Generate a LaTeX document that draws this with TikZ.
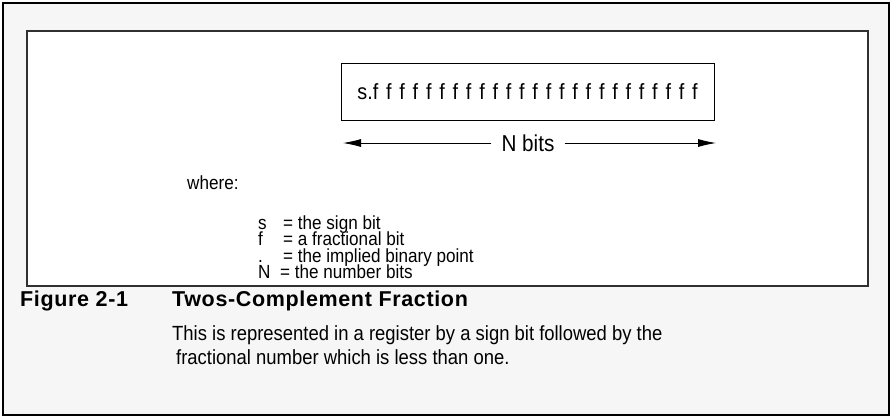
\documentclass[tikz,border=0pt]{standalone}
\usepackage{fontspec}
\setmainfont[FakeStretch=0.9]{Liberation Sans}
\newfontfamily\captbold[LetterSpace=3]{Liberation Sans Bold}
\usetikzlibrary{arrows.meta}
\definecolor{bggray}{HTML}{F6F6F6}
\definecolor{boxgray}{HTML}{303030}

\begin{document}
\begin{tikzpicture}[x=1pt, y=-1pt,
                every node/.style={inner sep=0pt, font=\fontsize{19}{21}\selectfont},
                txt/.style={anchor=base west},
                capt/.style={anchor=base west, font=\fontsize{20.5}{22}\selectfont},
                bitarrow/.style={draw, line width=0.8pt, -{Latex[length=18pt, width=8pt]}}]

                \useasboundingbox (0,0) rectangle (892,418);
                \draw[line width=2.5pt, fill=bggray] (3,3) rectangle (889,415);
                \draw[draw=boxgray, line width=1.2pt, fill=white] (27,31) rectangle (868,286);

                \node[draw, line width=0.8pt, minimum width=373pt, minimum height=57pt,
                      font=\fontsize{22}{24}\selectfont] (reg) at (527.5,91.5)
                    {s.f\foreach \k in {1,...,24}{\hspace{7.8pt}f}};

                \coordinate (larr) at (343,143);
                \coordinate (rarr) at (716,143);
                \node[anchor=base, inner xsep=10pt, font=\fontsize{23}{24}\selectfont] (nbits) at (528,151) {N bits};
                \path [bitarrow] (nbits.west |- larr) -- (larr);
                \path [bitarrow] (nbits.east |- rarr) -- (rarr);

                \node[txt] (where) at (187,189) {where:};
                \node[txt] (defs) at (258,229) {\makebox[25pt][l]{s}= the sign bit};
                \node[txt] (deff) at (258,245.5) {\makebox[25pt][l]{f}= a fractional bit};
                \node[txt] (defp) at (258,262) {\makebox[25pt][l]{.}= the implied binary point};
                \node[txt] (defn) at (258,278.5) {\makebox[22pt][l]{N}= the number bits};

                \node[capt] (fig) at (20,306) {\captbold\fontsize{21.5}{22}\selectfont Figure 2-1};
                \node[capt] (title) at (172,306) {\captbold\fontsize{21.5}{22}\selectfont Twos-Complement Fraction};
                \node[capt] (desc1) at (172,340) {This is represented in a register by a sign bit followed by the};
                \node[capt] (desc2) at (176,364) {fractional number which is less than one.};
            \end{tikzpicture}
\end{document}
